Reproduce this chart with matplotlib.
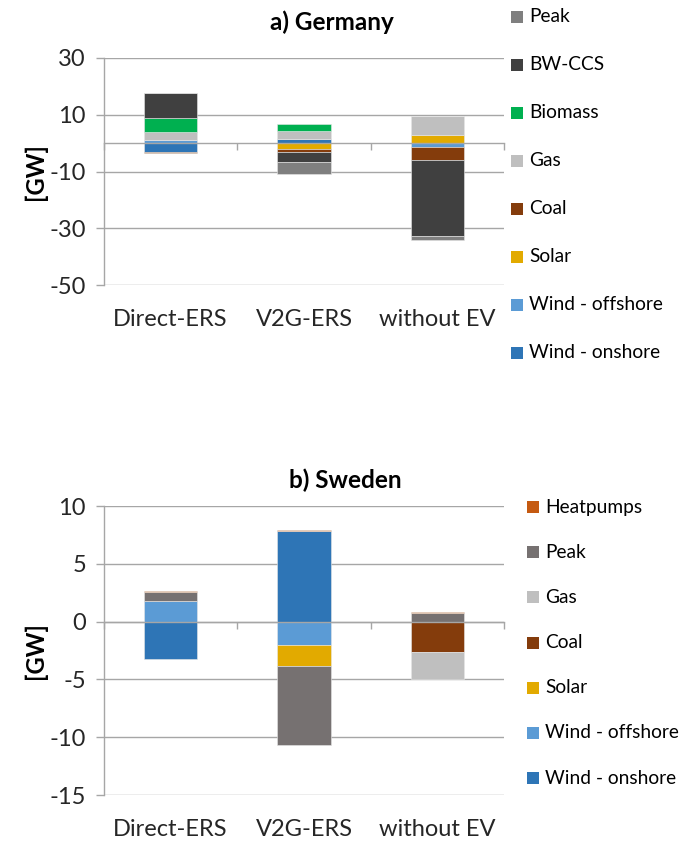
import numpy as np
import matplotlib
matplotlib.use("Agg")
import matplotlib.pyplot as plt

plt.rcParams['font.family'] = ['Lato', 'DejaVu Sans']

categories = ["Direct-ERS", "V2G-ERS", "without EV"]

# Germany (stacking order: first = closest to zero)
de_series = ["Wind - onshore", "Wind - offshore", "Solar", "Coal", "Gas", "Biomass", "BW-CCS", "Peak"]
de_onshore = [-3.05, 1.5, 0.0]
de_offshore = [1.15, 0.0, -1.5]
de_solar = [0.0, -2.0, 2.9]
de_coal = [-0.4, -1.3, -4.4]
de_gas = [2.6, 2.6, 6.7]
de_biomass = [5.05, 2.6, 0.1]
de_bwccs = [8.8, -3.2, -26.9]
de_peak = [0.0, -4.3, -1.4]
de_ticks = [30, 10, -10, -30, -50]

# Sweden
se_series = ["Wind - onshore", "Wind - offshore", "Solar", "Coal", "Gas", "Peak", "Heatpumps"]
se_onshore = [-3.2, 7.87, 0.0]
se_offshore = [1.75, -2.0, 0.0]
se_solar = [0.0, -1.8, 0.0]
se_coal = [0.0, 0.0, -2.6]
se_gas = [0.0, 0.0, -2.4]
se_peak = [0.8, -6.85, 0.75]
se_heatpumps = [0.11, 0.06, 0.08]
se_ticks = [10, 5, 0, -5, -10, -15]

de_colors = ["#2E75B6", "#5B9BD5", "#E2AA00", "#843C0C", "#BFBFBF", "#00B050", "#404040", "#7F7F7F"]
se_colors = ["#2E75B6", "#5B9BD5", "#E2AA00", "#843C0C", "#BFBFBF", "#767171", "#C55A11"]

GRID = "#A6A6A6"
PX = 0.72  # points per pixel at dpi 100
FS = 17

fig = plt.figure(figsize=(6.94, 8.41), dpi=100)

def draw(ax, names, data, colors, ticks, title, title_x, title_y, leg_x, leg_top, leg_step):
    x = np.arange(len(categories))
    pos = np.zeros(len(categories))
    neg = np.zeros(len(categories))
    for name, vals, c in zip(names, data, colors):
        v = np.array(vals, dtype=float)
        bottom = np.where(v >= 0, pos, neg)
        ax.bar(x, v, width=0.4, bottom=bottom, color=c, edgecolor="#E6E6E6", linewidth=0.4, zorder=3)
        pos = pos + np.where(v > 0, v, 0)
        neg = neg + np.where(v < 0, v, 0)
    ax.set_xlim(-0.5, len(categories) - 0.5)
    ax.set_ylim(min(ticks), max(ticks))
    ax.set_yticks(ticks)
    ax.set_yticklabels([str(t) for t in ticks], fontsize=FS, color="#262626")
    ax.grid(axis="y", color=GRID, linewidth=1.0, zorder=0)
    ax.tick_params(axis="y", length=8 * PX, width=1.0, color=GRID, pad=10 * PX)
    for s in ["top", "right"]:
        ax.spines[s].set_visible(False)
    ax.spines["left"].set_color(GRID)
    ax.spines["left"].set_linewidth(1.0)
    ax.spines["bottom"].set_position(("data", 0))
    ax.spines["bottom"].set_color(GRID)
    ax.spines["bottom"].set_linewidth(1.0)
    ax.spines["bottom"].set_zorder(4)
    ax.set_xticks(np.arange(len(categories) + 1) - 0.5)
    ax.set_xticklabels([])
    ax.tick_params(axis="x", length=7 * PX, width=1.0, color=GRID, direction="out")
    for i, c in enumerate(categories):
        ax.annotate(c, xy=(i, 0), xycoords=ax.get_xaxis_transform(), xytext=(0, -35 * PX),
                    textcoords="offset points", ha="center", va="center", fontsize=FS, color="#262626")
    ax.set_ylabel("[GW]", fontsize=FS, fontweight="bold", labelpad=2)
    fig.text(title_x / 694, 1 - title_y / 841, title, ha="center", va="center",
             fontsize=17.5, fontweight="bold", color="#000000")
    for k, (name, c) in enumerate(zip(names[::-1], colors[::-1])):
        yc = leg_top + k * leg_step
        fig.patches.append(matplotlib.patches.Rectangle(
            (leg_x / 694, 1 - (yc + 6) / 841), 12 / 694, 12 / 841,
            transform=fig.transFigure, facecolor=c, edgecolor="none"))
        fig.text((leg_x + 18) / 694, 1 - yc / 841, name, ha="left", va="center",
                 fontsize=13.8, color="#000000")

ax1 = fig.add_axes([104 / 694, 1 - 285 / 841, 400 / 694, 227 / 841])
draw(ax1, de_series,
     [de_onshore, de_offshore, de_solar, de_coal, de_gas, de_biomass, de_bwccs, de_peak],
     de_colors, de_ticks, "a) Germany", 332, 22, 511, 17, 48)

ax2 = fig.add_axes([104 / 694, 1 - 795 / 841, 400 / 694, 289 / 841])
draw(ax2, se_series,
     [se_onshore, se_offshore, se_solar, se_coal, se_gas, se_peak, se_heatpumps],
     se_colors, se_ticks, "b) Sweden", 345, 480, 527, 507, 45.2)

fig.savefig("out.png", dpi=100)
